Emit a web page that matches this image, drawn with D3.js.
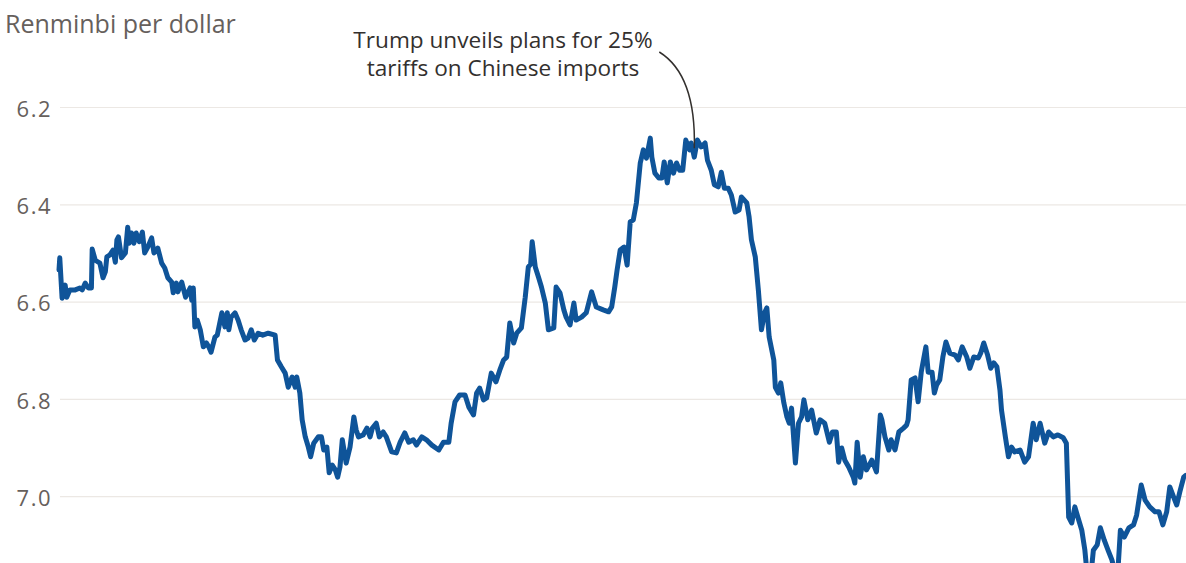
<!DOCTYPE html>
<html>
<head>
<meta charset="utf-8">
<script src="https://cdn.jsdelivr.net/npm/d3@7"></script>
<style>
  body { margin: 0; background: #fff; }
  svg { display: block; font-family: "Open Sans", sans-serif; }
</style>
</head>
<body>
<script>
// days since 2016-01-01
const days = [0,1,4,8,10,14,21,27,30,34,38,42,43,47,53,57,60,62,66,70,73,75,77,81,86,89,91,94,97,100,104,108,111,115,120,123,128,133,137,141,146,148,152,154,159,164,170,172,174,176,179,183,187,191,194,197,202,205,211,215,218,220,223,228,232,236,241,245,249,253,258,264,271,280,283,288,293,297,302,306,308,312,315,319,323,326,330,336,340,343,347,350,354,358,361,364,367,372,377,382,385,388,394,399,403,406,411,415,420,424,431,437,442,448,453,459,463,470,476,483,492,498,505,508,513,519,526,531,537,541,545,550,554,560,566,571,576,580,584,589,593,599,604,608,611,613,617,621,625,630,634,641,644,649,654,657,662,667,670,677,683,690,696,705,712,716,720,723,727,732,736,740,744,748,753,757,761,766,768,772,777,781,784,788,792,796,800,804,808,812,817,819,823,827,832,837,840,845,849,854,858,862,867,871,876,881,884,891,894,897,902,906,910,914,917,920,926,928,932,935,939,943,946,949,954,958,962,965,970,975,981,986,992,998,1002,1007,1010,1014,1018,1023,1029,1031,1034,1038,1042,1046,1053,1059,1064,1066,1070,1075,1078,1083,1088,1094,1098,1100,1104,1109,1113,1117,1123,1126,1131,1134,1137,1141,1145,1149,1154,1161,1165,1170,1176,1180,1185,1191,1194,1198,1203,1207,1211,1215,1219,1221,1226,1230,1234,1238,1245,1251,1256,1262,1266,1271,1277,1282,1288,1294,1301,1305,1308,1312,1316,1321,1325,1329,1332,1336,1340,1345,1349,1354,1359,1364,1368,1372,1375,1380,1386,1392,1396,1402,1407,1413,1420,1425,1430,1435,1439,1444,1448,1452,1457,1460];
const rates = [6.535,6.510,6.593,6.566,6.591,6.576,6.576,6.572,6.576,6.562,6.572,6.572,6.492,6.515,6.521,6.551,6.539,6.508,6.504,6.494,6.519,6.473,6.467,6.510,6.500,6.447,6.480,6.459,6.480,6.459,6.477,6.457,6.500,6.488,6.469,6.500,6.490,6.521,6.531,6.551,6.560,6.582,6.562,6.580,6.560,6.591,6.572,6.597,6.572,6.652,6.638,6.658,6.693,6.685,6.693,6.704,6.673,6.669,6.623,6.652,6.623,6.658,6.632,6.623,6.638,6.658,6.679,6.675,6.658,6.679,6.665,6.669,6.665,6.669,6.720,6.734,6.747,6.776,6.755,6.776,6.755,6.788,6.843,6.878,6.899,6.919,6.891,6.878,6.878,6.905,6.899,6.952,6.936,6.946,6.961,6.940,6.884,6.932,6.899,6.837,6.864,6.878,6.874,6.860,6.878,6.860,6.850,6.878,6.868,6.878,6.909,6.911,6.889,6.870,6.889,6.884,6.895,6.878,6.884,6.895,6.905,6.889,6.889,6.850,6.806,6.792,6.792,6.817,6.833,6.788,6.778,6.802,6.798,6.747,6.765,6.741,6.720,6.714,6.644,6.685,6.665,6.654,6.591,6.529,6.523,6.477,6.529,6.549,6.570,6.603,6.658,6.654,6.570,6.582,6.617,6.632,6.648,6.603,6.638,6.632,6.623,6.580,6.611,6.617,6.621,6.611,6.570,6.535,6.494,6.488,6.525,6.436,6.432,6.397,6.315,6.288,6.305,6.264,6.303,6.336,6.346,6.346,6.313,6.356,6.313,6.336,6.315,6.330,6.330,6.268,6.288,6.274,6.303,6.268,6.282,6.274,6.309,6.330,6.360,6.364,6.334,6.367,6.367,6.381,6.416,6.412,6.385,6.397,6.426,6.473,6.508,6.576,6.658,6.623,6.613,6.673,6.720,6.776,6.788,6.767,6.808,6.837,6.850,6.819,6.932,6.850,6.837,6.802,6.843,6.823,6.870,6.843,6.850,6.889,6.868,6.868,6.930,6.901,6.926,6.940,6.961,6.973,6.889,6.961,6.919,6.946,6.926,6.950,6.833,6.843,6.878,6.905,6.884,6.905,6.868,6.860,6.854,6.843,6.761,6.757,6.806,6.745,6.693,6.745,6.745,6.788,6.771,6.761,6.714,6.683,6.706,6.710,6.720,6.693,6.714,6.737,6.714,6.716,6.706,6.685,6.710,6.737,6.726,6.734,6.782,6.823,6.878,6.919,6.899,6.909,6.905,6.930,6.919,6.850,6.884,6.850,6.891,6.868,6.878,6.874,6.880,6.891,7.043,7.055,7.022,7.049,7.070,7.111,7.162,7.176,7.111,7.100,7.065,7.090,7.111,7.131,7.156,7.148,7.070,7.084,7.065,7.059,7.039,6.977,7.008,7.022,7.032,7.032,7.059,7.032,6.981,7.002,7.018,6.991,6.961,6.957];
const yTicks = [6.2, 6.4, 6.6, 6.8, 7.0];
const yTitle = "Renminbi per dollar";
const noteLines = ["Trump unveils plans for 25%", "tariffs on Chinese imports"];
const noteDay = 823; // early April 2018

const width = 1186, height = 563;
const data = days.map((d, i) => ({ day: d, rate: rates[i] }));

const svg = d3.select("body").append("svg")
  .attr("width", width)
  .attr("height", height);

const x = d3.scaleLinear().domain([0, 1460]).range([59, 1186]);
const y = d3.scaleLinear().domain([6.2, 7.0]).range([107, 496.2]);

// gridlines + labels
const yAxis = svg.append("g")
  .attr("transform", "translate(60,0)")
  .call(d3.axisLeft(y).tickValues(yTicks).tickFormat(d3.format(".1f")).tickSize(-(width - 60)).tickPadding(8));
yAxis.select(".domain").remove();
yAxis.selectAll(".tick line").attr("stroke", "#ece8e4").attr("stroke-width", 1.2);
yAxis.selectAll(".tick text")
  .attr("fill", "#66605c")
  .attr("font-size", 22)
  .attr("letter-spacing", 1.5)
  .attr("font-family", "'Open Sans', sans-serif")
  .attr("dy", "0.42em");

svg.append("text")
  .attr("x", 5).attr("y", 33)
  .attr("fill", "#66605c")
  .attr("font-size", 25)
  .text(yTitle);

// the series
svg.append("path")
  .datum(data)
  .attr("fill", "none")
  .attr("stroke", "#0f5499")
  .attr("stroke-width", 5)
  .attr("stroke-linejoin", "round")
  .attr("stroke-linecap", "round")
  .attr("d", d3.line().x(d => x(d.day)).y(d => y(d.rate)));

// annotation
const note = svg.append("text")
  .attr("x", 503).attr("y", 48)
  .attr("text-anchor", "middle")
  .attr("fill", "#33302e")
  .attr("font-size", 22.6);
note.selectAll("tspan").data(noteLines).enter().append("tspan")
  .attr("x", 503)
  .attr("dy", (d, i) => i ? 28 : 0)
  .text(d => d);

const nx = x(noteDay), ny = y(6.285);
svg.append("path")
  .attr("fill", "none")
  .attr("stroke", "#33302e")
  .attr("stroke-width", 1.5)
  .attr("d", `M${nx - 35},52 Q${nx + 2},75 ${nx},${ny}`);
</script>
</body>
</html>
